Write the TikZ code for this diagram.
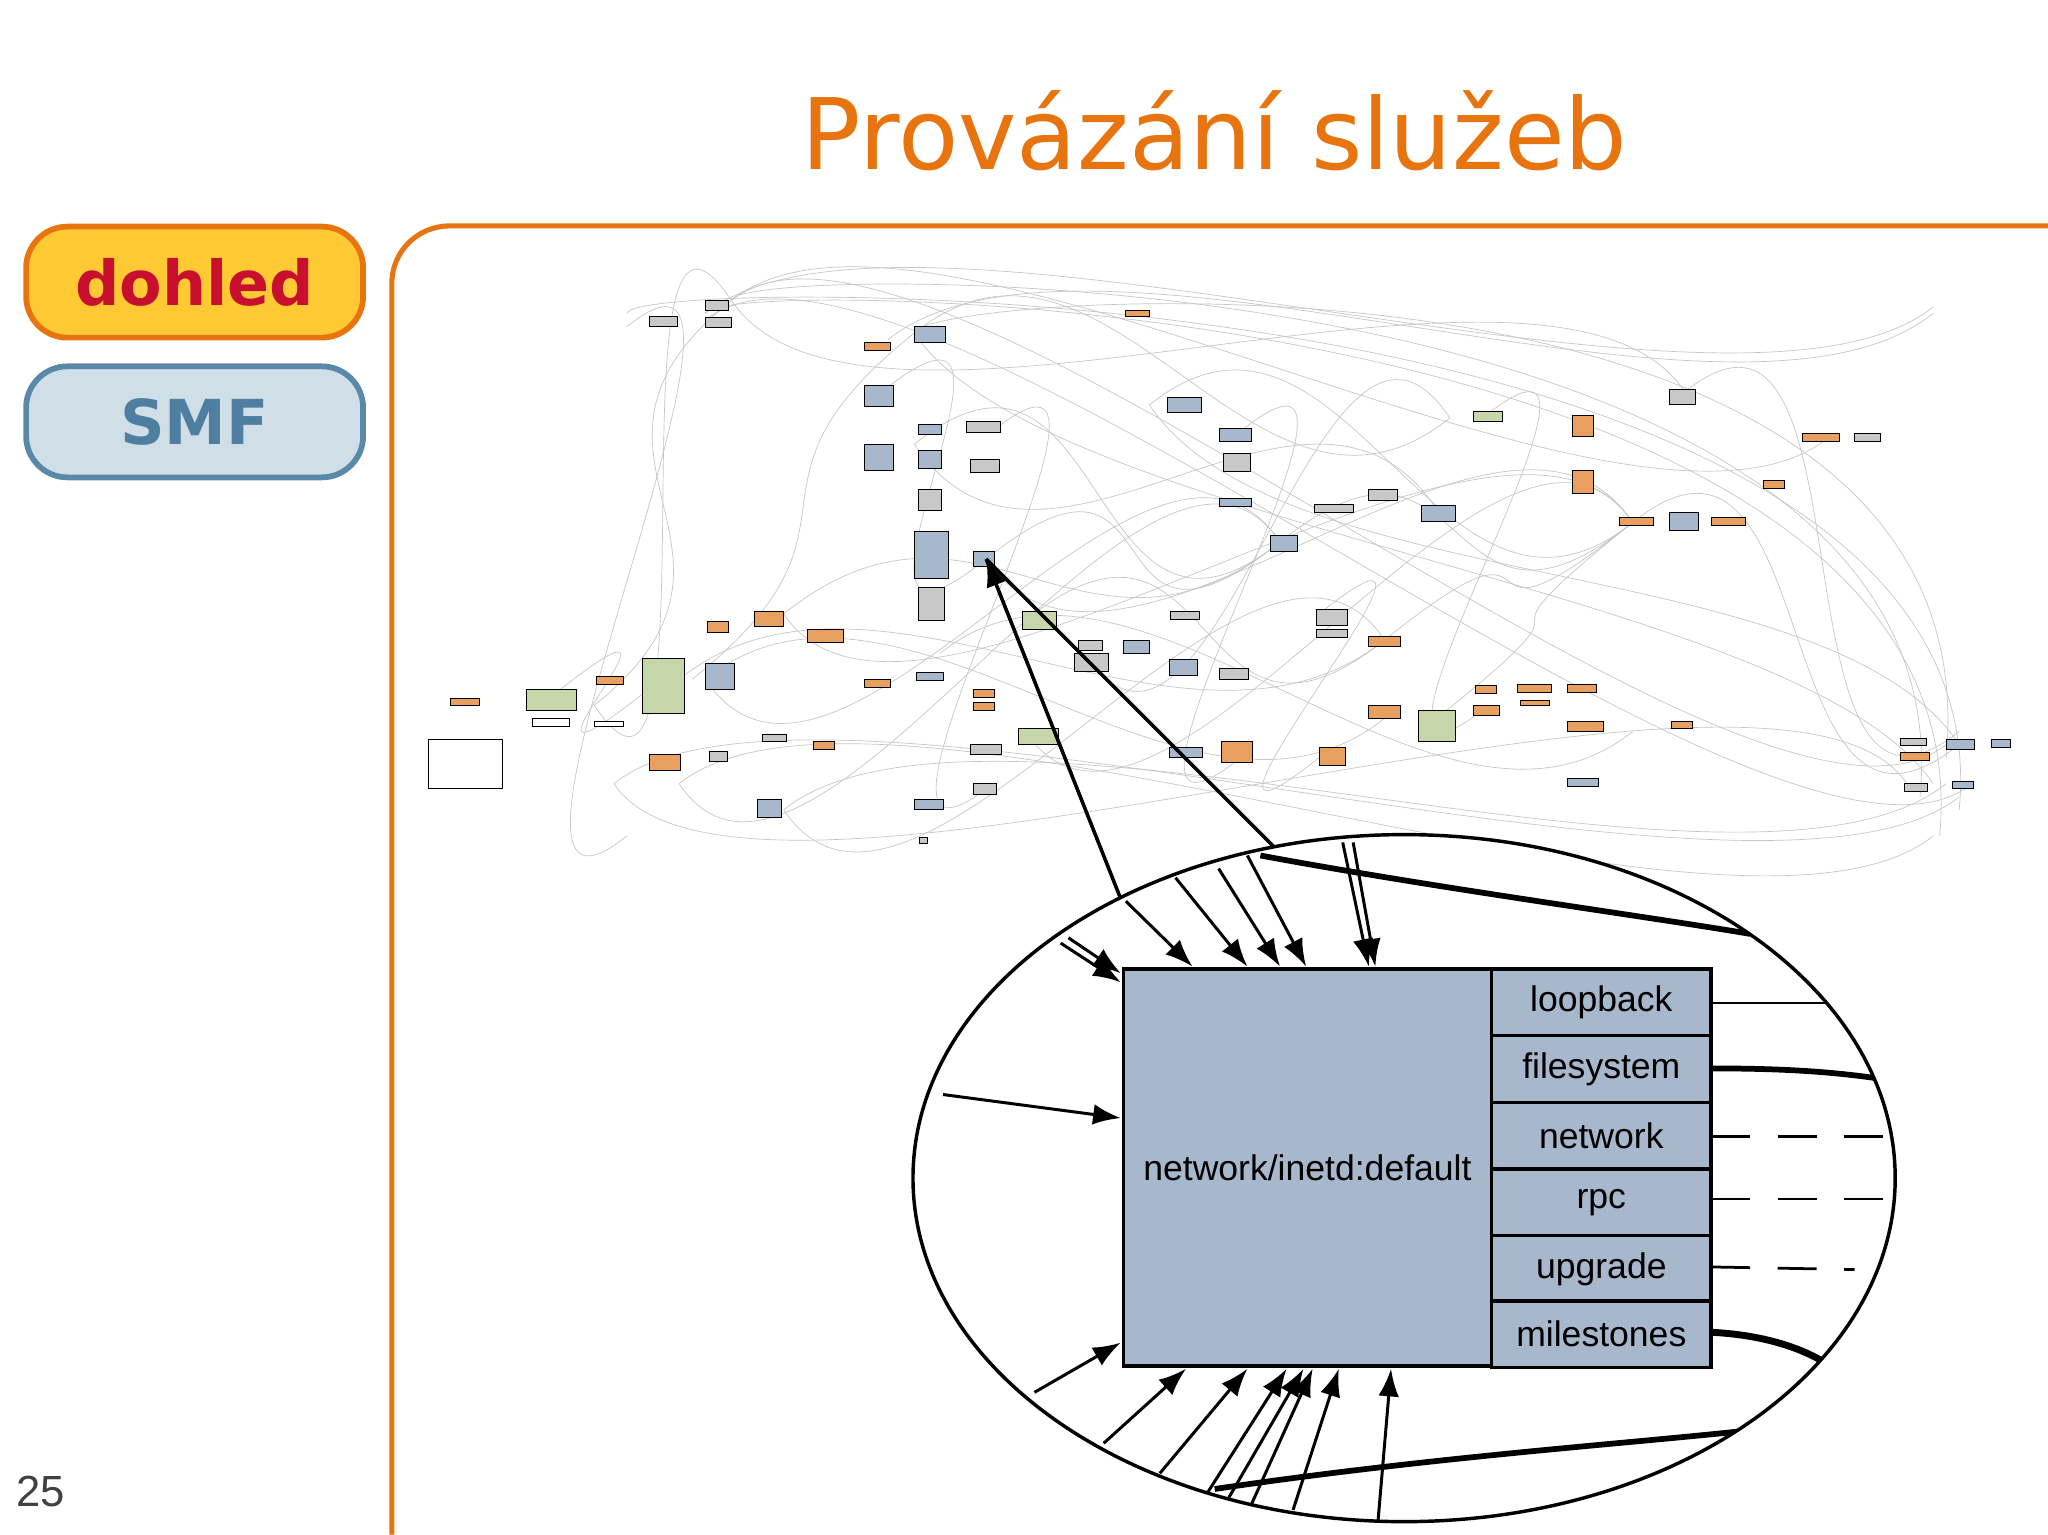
\documentclass[tikz,border=0pt]{standalone}
\usepackage{fontspec}
\setmainfont{DejaVu Sans}
\newfontfamily\arialf{Liberation Sans}
\usetikzlibrary{arrows.meta}
\definecolor{org}{HTML}{E8740F}
\definecolor{ylw}{HTML}{FFC933}
\definecolor{crim}{HTML}{C8102E}
\definecolor{smfb}{HTML}{D0DEE8}
\definecolor{smfe}{HTML}{5A88A8}
\definecolor{smft}{HTML}{4F7FA0}
\definecolor{nodeb}{HTML}{A7B7CC}
\definecolor{gor}{HTML}{E8A060}
\definecolor{ggr}{HTML}{C5D6A8}
\definecolor{ggy}{HTML}{C8C8C8}
\tikzset{
 btn/.style={rounded corners=18pt,line width=2.5pt,minimum width=258*0.02cm,minimum height=85*0.02cm,font=\bfseries\fontsize{27}{27}\selectfont},
 port/.style={draw=black,line width=1.5pt,fill=nodeb,minimum width=168*0.02cm,minimum height=51*0.02cm,font=\arialf\fontsize{15.5}{15.5}\selectfont,inner sep=0},
 arr/.style={line width=1.3pt,-{Latex[length=12pt,width=9pt]}},
 gl/.style={draw=gray!45,line width=0.3pt},
}
\begin{document}
\begin{tikzpicture}[x=0.02cm,y=-0.02cm]
\useasboundingbox (0,0) rectangle (1568,1175);
\fill[white] (0,0) rectangle (1568,1175);
\node[text=org,font=\fontsize{43}{43}\selectfont] (title) at (930,100) {Provázání služeb};
\draw[org,line width=2.2pt,rounded corners=25pt] (300,1175) -- (300,173) -- (1568,173);
\node[btn,draw=org,fill=ylw,text=crim] (dohled) at (149,216) {dohled};
\node[btn,draw=smfe,fill=smfb,text=smft] (smf) at (149,323) {SMF};
\node[text=black!75,font=\arialf\fontsize{19}{19}\selectfont] (pg) at (31,1142) {25};
% background graph curves
\foreach \a/\b/\c/\d in {455/540/560/230, 530/520/700/255, 540/240/1480/235, 470/600/1500/610, 560/230/1490/570, 700/255/1110/320, 755/428/980/415, 980/415/1250/400, 600/470/980/415, 520/520/1060/490, 1060/490/1250/400, 1100/550/1250/400, 675/300/755/428, 700/340/980/415, 880/310/1250/400, 560/230/1400/335, 540/245/1510/600, 420/535/500/525, 1250/400/1500/570, 785/475/1060/490, 600/620/1490/600, 540/520/1060/550, 760/330/760/600, 950/330/950/580, 1010/470/1010/580, 1135/320/1140/540, 480/250/480/640, 520/600/1480/640, 720/500/1250/560, 680/260/1480/240, 1290/300/1500/560}
  \draw[gl] (\a,\b) .. controls (\a+150,\b-120) and (\c-150,\d+120) .. (\c,\d);
\foreach \a/\b/\c/\d in {455/540/560/230, 700/255/1480/600, 540/520/980/415, 600/470/1250/400, 755/428/1250/400, 560/230/1290/300, 880/310/1500/570, 600/620/1060/490, 520/600/980/415, 785/560/1250/400, 470/600/1460/600, 830/500/1110/320, 700/340/1100/390}
  \draw[gl] (\a,\b) .. controls (\a+100,\b+150) and (\c-100,\d-150) .. (\c,\d);
\foreach \a/\b/\c/\d in {560/230/1470/610, 700/255/1490/580, 480/240/1500/620, 540/240/1485/640}
  \draw[gl] (\a,\b) .. controls (\a,\b-30) and (\c+40,\d-420) .. (\c,\d);
% background boxes
\foreach \x/\y/\w/\h/\c in {
 345/535/22/5/gor, 403/528/38/16/ggr, 408/550/28/6/white, 328/566/57/38/white,
 457/518/20/6/gor, 455/552/22/4/white, 492/504/32/42/ggr, 540/508/22/20/nodeb,
 542/476/16/8/gor, 578/468/22/12/gor, 618/482/28/10/gor, 497/578/24/12/gor,
 543/575/14/8/ggy, 580/612/18/14/nodeb, 623/568/16/6/gor, 584/562/18/6/ggy,
 662/520/20/6/gor, 702/515/20/6/nodeb, 700/612/22/8/nodeb, 704/641/6/5/ggy,
 540/230/18/8/ggy, 497/242/22/8/ggy, 540/243/20/8/ggy, 662/262/20/6/gor,
 700/250/24/12/nodeb, 662/295/22/16/nodeb, 662/340/22/20/nodeb, 703/325/18/8/nodeb,
 703/345/18/14/nodeb, 740/323/26/8/ggy, 743/352/22/10/ggy, 703/375/18/16/ggy,
 700/407/26/36/nodeb, 703/450/20/25/ggy, 745/422/16/12/nodeb, 862/238/18/4/gor,
 894/304/26/12/nodeb, 934/328/24/10/nodeb, 937/347/20/14/ggy, 934/382/24/6/nodeb,
 973/410/20/12/nodeb, 1006/386/30/6/ggy, 1048/375/22/8/ggy, 1088/387/26/12/nodeb,
 1128/315/22/8/ggr, 1204/318/16/16/gor, 1204/360/16/18/gor, 1240/396/26/6/gor,
 1278/298/20/12/ggy, 1278/392/22/14/nodeb, 1310/396/26/6/gor, 1350/368/16/6/gor,
 1380/332/28/6/gor, 1420/332/20/6/ggy, 783/468/26/14/ggr, 826/490/18/8/ggy,
 823/500/26/14/ggy, 860/490/20/10/nodeb, 895/505/22/12/nodeb, 934/512/22/8/ggy,
 896/468/22/6/ggy, 1008/467/24/12/ggy, 1008/482/24/6/ggy, 1048/487/24/8/gor,
 1048/540/24/10/gor, 1086/544/28/24/ggr, 1128/540/20/8/gor, 1130/525/16/6/gor,
 1162/524/26/6/gor, 1200/524/22/6/gor, 1164/536/22/4/gor, 1200/552/28/8/gor,
 1280/552/16/6/gor, 1200/596/24/6/nodeb, 935/568/24/16/gor, 1010/572/20/14/gor,
 895/572/26/8/nodeb, 780/558/30/12/ggr, 743/570/24/8/ggy, 745/600/18/8/ggy,
 745/528/16/6/gor, 745/538/16/6/gor, 1455/565/20/6/ggy, 1455/576/22/6/gor,
 1490/566/22/8/nodeb, 1525/566/14/6/nodeb, 1495/598/16/6/nodeb, 1458/600/18/6/ggy}
  \draw[fill=\c,line width=0.4pt] (\x,\y) rectangle ++(\w,\h);
% zoom lines
\coordinate (src) at (755,428);
\coordinate (zl) at (858,688);
\coordinate (zr) at (975,648);
\draw[line width=1.5pt] (src) -- (zl) (src) -- (zr);
\draw[arr] (zl) -- (src);
% ellipse
\draw[line width=1.5pt,fill=white] (1075,902) ellipse [x radius=376,y radius=263];
\begin{scope}
\clip (1075,902) ellipse [x radius=375,y radius=262];
\draw[line width=2.5pt] (965,655) .. controls (1100,680) and (1250,700) .. (1340,715);
\draw[line width=1.2pt] (1310,768) -- (1420,768);
\draw[line width=2.5pt] (1310,818) .. controls (1360,818) and (1400,820) .. (1440,826);
\draw[line width=1.2pt,dash pattern=on 17pt off 12pt] (1310,870) -- (1460,870);
\draw[line width=1.2pt,dash pattern=on 17pt off 12pt] (1310,918) -- (1460,918);
\draw[line width=1.2pt,dash pattern=on 17pt off 12pt] (1310,970) -- (1420,972);
\draw[line width=3pt] (1310,1020) .. controls (1350,1022) and (1380,1032) .. (1400,1045);
\draw[line width=2.5pt] (930,1140) .. controls (1100,1115) and (1250,1105) .. (1340,1095);
\end{scope}
% main node
\node[draw=black,line width=1.5pt,fill=nodeb,minimum width=282*0.02cm,minimum height=304*0.02cm,font=\arialf\fontsize{15.5}{15.5}\selectfont,inner sep=0] (inetd) at (1001,894) {network/inetd:default};
\node[port] (p1) at (1226,767.5) {loopback};
\node[port] (p2) at (1226,818.5) {filesystem};
\node[port] (p3) at (1226,869.5) {network};
\node[port] (p4) at (1226,920.5) {rpc};
\node[port] (p5) at (1226,971.5) {upgrade};
\node[port] (p6) at (1226,1021.5) {milestones};
% incoming arrows
\draw[arr] (812,722) -- (858,752);
\draw[arr] (818,718) -- (858,745);
\draw[arr] (862,690) -- (913,740);
\draw[arr] (900,672) -- (955,740);
\draw[arr] (933,665) -- (980,740);
\draw[arr] (955,655) -- (1000,740);
\draw[arr] (1028,645) -- (1048,740);
\draw[arr] (1036,645) -- (1053,740);
\draw[arr] (722,838) -- (858,856);
\draw[arr] (792,1066) -- (858,1028);
\draw[arr] (845,1105) -- (908,1048);
\draw[arr] (888,1128) -- (955,1048);
\draw[arr] (925,1142) -- (985,1048);
\draw[arr] (940,1148) -- (998,1048);
\draw[arr] (958,1152) -- (1005,1048);
\draw[arr] (990,1156) -- (1025,1048);
\draw[arr] (1055,1165) -- (1065,1048);
\end{tikzpicture}
\end{document}
